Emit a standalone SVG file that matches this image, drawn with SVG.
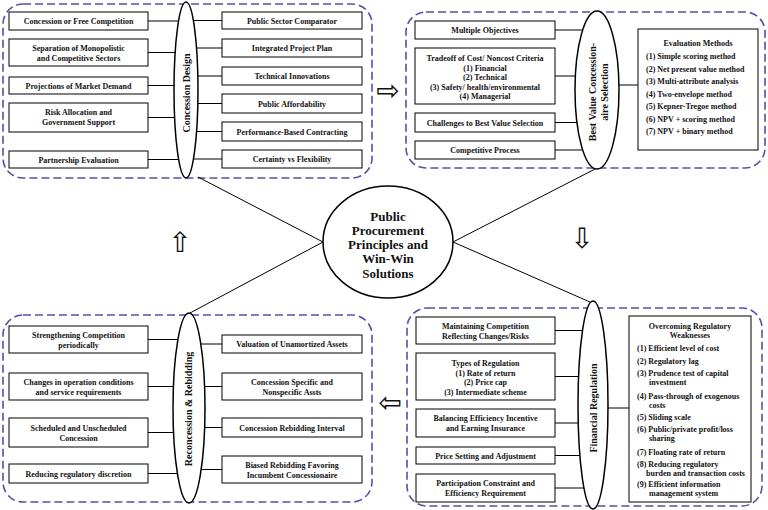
<svg xmlns="http://www.w3.org/2000/svg" width="768" height="510" viewBox="0 0 768 510">
<style>
.bg{fill:#fff}
.grp{fill:none;stroke:#5350a8;stroke-width:1.6;stroke-dasharray:8 4}
.box{fill:#fff;stroke:#000;stroke-width:1}
.ell{fill:#fff;stroke:#000;stroke-width:1.5}
.ln{stroke:#000;stroke-width:1;fill:none}
.t{font-family:"Liberation Serif","Times New Roman",serif;font-weight:bold;font-size:8px;text-anchor:middle;fill:#111}
.tl{font-family:"Liberation Serif","Times New Roman",serif;font-weight:bold;font-size:8px;text-anchor:start;fill:#111}
.e{font-family:"Liberation Serif","Times New Roman",serif;font-weight:bold;font-size:10px;text-anchor:middle;fill:#111}
.c{font-family:"Liberation Serif","Times New Roman",serif;font-weight:bold;font-size:13px;text-anchor:middle;fill:#111}
.ar{font-family:"DejaVu Sans",sans-serif;font-size:28px;text-anchor:middle;fill:#111}
</style>
<rect class="bg" x="0" y="0" width="768" height="510"/>

<g id="groups">
<rect class="grp" x="3" y="4" width="369" height="174" rx="20"/>
<rect class="grp" x="406" y="12" width="359" height="156" rx="20"/>
<rect class="grp" x="3" y="315" width="369" height="187" rx="20"/>
<rect class="grp" x="407" y="308" width="355" height="198" rx="20"/>
</g>

<g id="connectors">
<line class="ln" x1="323" y1="242" x2="198" y2="177"/>
<line class="ln" x1="323" y1="242" x2="190" y2="313"/>
<line class="ln" x1="453" y1="242" x2="597" y2="168"/>
<line class="ln" x1="453" y1="242" x2="590" y2="302"/>
<line class="ln" x1="148" y1="21" x2="186" y2="21"/>
<line class="ln" x1="148" y1="52.5" x2="186" y2="52.5"/>
<line class="ln" x1="148" y1="85.5" x2="186" y2="85.5"/>
<line class="ln" x1="148" y1="117.5" x2="186" y2="117.5"/>
<line class="ln" x1="148" y1="159.5" x2="186" y2="159.5"/>
<line class="ln" x1="186" y1="20.5" x2="222" y2="20.5"/>
<line class="ln" x1="186" y1="48" x2="222" y2="48"/>
<line class="ln" x1="186" y1="76" x2="222" y2="76"/>
<line class="ln" x1="186" y1="103.5" x2="222" y2="103.5"/>
<line class="ln" x1="186" y1="131.5" x2="222" y2="131.5"/>
<line class="ln" x1="186" y1="159" x2="222" y2="159"/>
<line class="ln" x1="555" y1="30" x2="597" y2="30"/>
<line class="ln" x1="555" y1="76" x2="597" y2="76"/>
<line class="ln" x1="555" y1="122.5" x2="597" y2="122.5"/>
<line class="ln" x1="555" y1="150" x2="597" y2="150"/>
<line class="ln" x1="597" y1="85" x2="638" y2="85"/>
<line class="ln" x1="148" y1="339.5" x2="189" y2="339.5"/>
<line class="ln" x1="148" y1="386.5" x2="189" y2="386.5"/>
<line class="ln" x1="148" y1="432.5" x2="189" y2="432.5"/>
<line class="ln" x1="148" y1="473.5" x2="189" y2="473.5"/>
<line class="ln" x1="189" y1="344" x2="222" y2="344"/>
<line class="ln" x1="189" y1="386.5" x2="222" y2="386.5"/>
<line class="ln" x1="189" y1="427.5" x2="222" y2="427.5"/>
<line class="ln" x1="189" y1="469.5" x2="222" y2="469.5"/>
<line class="ln" x1="555" y1="330.5" x2="593" y2="330.5"/>
<line class="ln" x1="555" y1="376.5" x2="593" y2="376.5"/>
<line class="ln" x1="555" y1="423" x2="593" y2="423"/>
<line class="ln" x1="555" y1="455.5" x2="593" y2="455.5"/>
<line class="ln" x1="555" y1="488" x2="593" y2="488"/>
<line class="ln" x1="593" y1="408" x2="629" y2="408"/>
</g>

<g id="center">
<ellipse class="ell" cx="388" cy="242" rx="65" ry="56"/>
<text class="c" x="388" y="221">Public</text>
<text class="c" x="388" y="235">Procurement</text>
<text class="c" x="388" y="249">Principles and</text>
<text class="c" x="388" y="263">Win-Win</text>
<text class="c" x="388" y="278">Solutions</text>
</g>

<g id="concession-design">
<ellipse class="ell" cx="186" cy="90" rx="12" ry="88"/>
<text class="e" transform="translate(186,93) rotate(-90)" x="0" y="3.5">Concession Design</text>
</g>
<g id="cd-l1"><rect class="box" x="9" y="12" width="139" height="18"/><text class="t" x="78.5" y="24">Concession or Free Competition</text></g>
<g id="cd-l2"><rect class="box" x="9" y="39" width="139" height="27"/><text class="t" x="78.5" y="50.5">Separation of Monopolistic</text><text class="t" x="78.5" y="60.5">and Competitive Sectors</text></g>
<g id="cd-l3"><rect class="box" x="9" y="77" width="139" height="17"/><text class="t" x="78.5" y="88.5">Projections of Market Demand</text></g>
<g id="cd-l4"><rect class="box" x="9" y="103" width="139" height="29"/><text class="t" x="78.5" y="115">Risk Allocation and</text><text class="t" x="78.5" y="125">Government Support</text></g>
<g id="cd-l5"><rect class="box" x="9" y="151" width="139" height="17"/><text class="t" x="78.5" y="162.5">Partnership Evaluation</text></g>
<g id="cd-r1"><rect class="box" x="222" y="12" width="140" height="17"/><text class="t" x="292" y="23.5">Public Sector Comparator</text></g>
<g id="cd-r2"><rect class="box" x="222" y="39" width="140" height="18"/><text class="t" x="292" y="51">Integrated Project Plan</text></g>
<g id="cd-r3"><rect class="box" x="222" y="67" width="140" height="18"/><text class="t" x="292" y="79">Technical Innovations</text></g>
<g id="cd-r4"><rect class="box" x="222" y="94" width="140" height="19"/><text class="t" x="292" y="106.5">Public Affordability</text></g>
<g id="cd-r5"><rect class="box" x="222" y="122" width="140" height="19"/><text class="t" x="292" y="134.5">Performance-Based Contracting</text></g>
<g id="cd-r6"><rect class="box" x="222" y="150" width="140" height="18"/><text class="t" x="292" y="162">Certainty vs Flexibility</text></g>

<g id="best-value">
<ellipse class="ell" cx="597" cy="90" rx="22" ry="79"/>
<g transform="translate(599,92) rotate(-90)">
<text class="e" x="0" y="-3">Best Value Concession-</text>
<text class="e" x="0" y="9">aire Selection</text>
</g>
</g>
<g id="bv-l1"><rect class="box" x="415" y="21" width="140" height="18"/><text class="t" x="485" y="33">Multiple Objectives</text></g>
<g id="bv-l2"><rect class="box" x="415" y="48" width="140" height="56"/>
<text class="t" x="485" y="61">Tradeoff of Cost/ Noncost Criteria</text>
<text class="t" x="485" y="70.5">(1) Financial</text>
<text class="t" x="485" y="80">(2) Technical</text>
<text class="t" x="485" y="89.5">(3) Safety/ health/environmental</text>
<text class="t" x="485" y="99">(4) Managerial</text></g>
<g id="bv-l3"><rect class="box" x="415" y="113" width="140" height="19"/><text class="t" x="485" y="125.5">Challenges to Best Value Selection</text></g>
<g id="bv-l4"><rect class="box" x="415" y="141" width="140" height="18"/><text class="t" x="485" y="153">Competitive Process</text></g>
<g id="bv-eval"><rect class="box" x="638" y="29" width="120" height="121"/>
<text class="t" x="698" y="46">Evaluation Methods</text>
<text class="tl" x="646" y="59">(1) Simple scoring method</text>
<text class="tl" x="646" y="71.5">(2) Net present value method</text>
<text class="tl" x="646" y="84">(3) Multi-attribute analysis</text>
<text class="tl" x="646" y="96.5">(4) Two-envelope method</text>
<text class="tl" x="646" y="109">(5) Kepner-Tregoe method</text>
<text class="tl" x="646" y="121.5">(6) NPV + scoring method</text>
<text class="tl" x="646" y="134">(7) NPV + binary method</text></g>

<g id="reconcession">
<ellipse class="ell" cx="189" cy="408" rx="16" ry="95"/>
<text class="e" transform="translate(188,409) rotate(-90)" x="0" y="3.5">Reconcession &amp; Rebidding</text>
</g>
<g id="rr-l1"><rect class="box" x="9" y="326" width="139" height="27"/><text class="t" x="78.5" y="337.5">Strengthening Competition</text><text class="t" x="78.5" y="347.5">periodically</text></g>
<g id="rr-l2"><rect class="box" x="9" y="373" width="139" height="27"/><text class="t" x="78.5" y="384.5">Changes in operation conditions</text><text class="t" x="78.5" y="394.5">and service requirements</text></g>
<g id="rr-l3"><rect class="box" x="9" y="418" width="139" height="29"/><text class="t" x="78.5" y="430.5">Scheduled and Unscheduled</text><text class="t" x="78.5" y="440.5">Concession</text></g>
<g id="rr-l4"><rect class="box" x="9" y="464" width="139" height="19"/><text class="t" x="78.5" y="476.5">Reducing regulatory discretion</text></g>
<g id="rr-r1"><rect class="box" x="222" y="335" width="140" height="18"/><text class="t" x="292" y="347">Valuation of Unamortized Assets</text></g>
<g id="rr-r2"><rect class="box" x="222" y="373" width="140" height="27"/><text class="t" x="292" y="384.5">Concession Specific and</text><text class="t" x="292" y="394.5">Nonspecific Assts</text></g>
<g id="rr-r3"><rect class="box" x="222" y="418" width="140" height="19"/><text class="t" x="292" y="430.5">Concession Rebidding Interval</text></g>
<g id="rr-r4"><rect class="box" x="222" y="456" width="140" height="27"/><text class="t" x="292" y="467.5">Biased Rebidding Favoring</text><text class="t" x="292" y="477.5">Incumbent Concessionaire</text></g>

<g id="financial-regulation">
<ellipse class="ell" cx="593" cy="405" rx="15" ry="104"/>
<text class="e" transform="translate(593,408) rotate(-90)" x="0" y="3.5">Financial Regulation</text>
</g>
<g id="fr-l1"><rect class="box" x="416" y="317" width="139" height="27"/><text class="t" x="485.5" y="328.5">Maintaining Competition</text><text class="t" x="485.5" y="338.5">Reflecting Changes/Risks</text></g>
<g id="fr-l2"><rect class="box" x="416" y="353" width="139" height="47"/>
<text class="t" x="485.5" y="366">Types of Regulation</text>
<text class="t" x="485.5" y="375.5">(1) Rate of return</text>
<text class="t" x="485.5" y="385">(2) Price cap</text>
<text class="t" x="485.5" y="394.5">(3) Intermediate scheme</text></g>
<g id="fr-l3"><rect class="box" x="416" y="409" width="139" height="28"/><text class="t" x="485.5" y="421">Balancing Efficiency Incentive</text><text class="t" x="485.5" y="431">and Earning Insurance</text></g>
<g id="fr-l4"><rect class="box" x="416" y="447" width="139" height="17"/><text class="t" x="485.5" y="458.5">Price Setting and Adjustment</text></g>
<g id="fr-l5"><rect class="box" x="416" y="474" width="139" height="28"/><text class="t" x="485.5" y="486">Participation Constraint and</text><text class="t" x="485.5" y="496">Efficiency Requirement</text></g>
<g id="fr-weak"><rect class="box" x="629" y="316" width="122" height="186"/>
<text class="t" x="690" y="329">Overcoming Regulatory</text>
<text class="t" x="690" y="338">Weaknesses</text>
<text class="tl" x="637" y="351">(1) Efficient level of cost</text>
<text class="tl" x="637" y="364">(2) Regulatory lag</text>
<text class="tl" x="637" y="376">(3) Prudence test of capital</text>
<text class="tl" x="649" y="385">investment</text>
<text class="tl" x="637" y="399">(4) Pass-through of exogenous</text>
<text class="tl" x="649" y="408">costs</text>
<text class="tl" x="637" y="420">(5) Sliding scale</text>
<text class="tl" x="637" y="432">(6) Public/private profit/loss</text>
<text class="tl" x="649" y="441">sharing</text>
<text class="tl" x="637" y="455">(7) Floating rate of return</text>
<text class="tl" x="637" y="467">(8) Reducing regulatory</text>
<text class="tl" x="646" y="476">burden and transaction costs</text>
<text class="tl" x="637" y="487">(9) Efficient information</text>
<text class="tl" x="649" y="496">management system</text></g>

<g id="flow-arrows">
<text class="ar" x="388" y="100">⇨</text>
<text class="ar" x="582" y="248">⇩</text>
<text class="ar" x="180" y="252">⇧</text>
<text class="ar" x="390" y="412">⇦</text>
</g>
</svg>
